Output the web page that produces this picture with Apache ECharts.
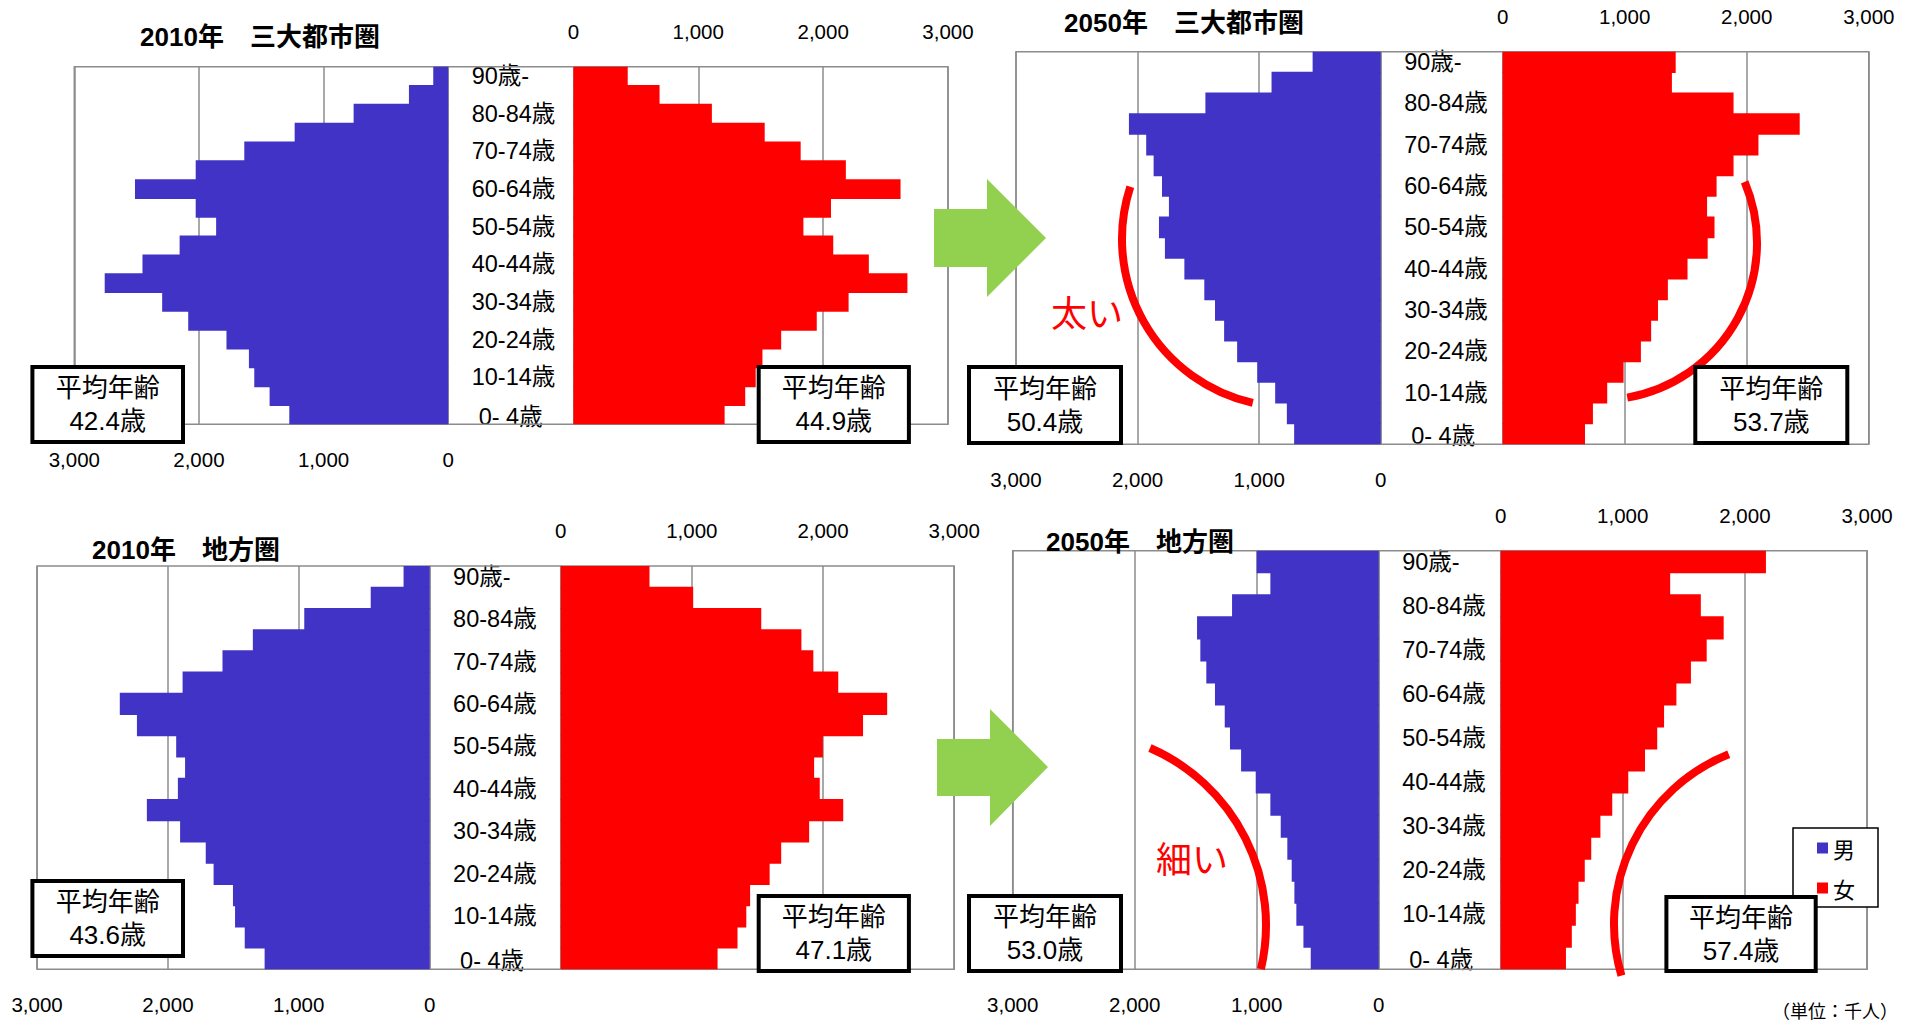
<!DOCTYPE html>
<html><head><meta charset="utf-8">
<script src="https://cdn.jsdelivr.net/npm/echarts@6/dist/echarts.min.js"></script>
<style>html,body{margin:0;padding:0;background:#fff}#c{width:1914px;height:1023px}</style>
</head><body><div id="c"></div>
<script>
// ---- data ----
const ageGroups = ['0- 4歳','5- 9歳','10-14歳','15-19歳','20-24歳','25-29歳','30-34歳','35-39歳','40-44歳','45-49歳','50-54歳','55-59歳','60-64歳','65-69歳','70-74歳','75-79歳','80-84歳','85-89歳','90歳-'];
const tickLabels = ['0','1,000','2,000','3,000'];
const panelTitles = ['2010年　三大都市圏','2050年　三大都市圏','2010年　地方圏','2050年　地方圏'];
const male2010Metro   = [1275,1433,1556,1599,1779,2086,2295,2756,2453,2155,1862,2026,2513,2026,1636,1232,759,315,120];
const female2010Metro = [1211,1376,1460,1514,1664,1949,2204,2675,2366,2081,1842,2063,2620,2182,1820,1532,1109,690,435];
const male2050Metro   = [712,772,868,1016,1181,1288,1363,1451,1615,1775,1824,1742,1799,1868,1929,2071,1442,898,560];
const female2050Metro = [675,740,857,991,1133,1217,1273,1354,1515,1680,1736,1675,1753,1892,2096,2434,1892,1387,1418];
const male2010Local   = [1261,1413,1487,1503,1651,1711,1907,2161,1924,1869,1937,2237,2368,1888,1583,1351,958,450,199];
const female2010Local = [1196,1348,1415,1444,1593,1681,1894,2154,1975,1932,1999,2305,2489,2116,1926,1835,1529,1010,677];
const male2050Local   = [557,617,675,691,713,749,803,888,1008,1128,1219,1262,1342,1413,1462,1489,1202,888,1000];
const female2050Local = [535,583,616,638,689,742,817,914,1045,1182,1282,1338,1439,1558,1687,1826,1639,1388,2172];
const meanAgeMaleSide   = ['42.4','50.4','43.6','53.0'];
const meanAgeFemaleSide = ['44.9','53.7','47.1','57.4'];
const seriesNames = ['男','女'];
const unitText = '（単位：千人）';
const remarks = ['太い','細い'];

// ---- layout ----
const FF = '"Liberation Sans","Noto Sans CJK JP",sans-serif';
const CJK = '"Noto Sans CJK JP","Liberation Sans",sans-serif';
const MALE_C = '#4033c5', FEMALE_C = '#ff0000', GRID_C = '#8c8c8c';
const maleData = [male2010Metro, male2050Metro, male2010Local, male2050Local];
const femaleData = [female2010Metro, female2050Metro, female2010Local, female2050Local];
const L = [
  {mL:74.3, mW:373.9, fL:573.4, fW:374.6, top:66.7, h:357.6, title:[260,37],
   boxM:[30.4,365,154.6,79], boxF:[756.7,365,154.2,79]},
  {mL:1016, mW:364.7, fL:1502.6, fW:366.2, top:51.7, h:392.6, title:[1184,23],
   boxM:[967,365,156,80], boxF:[1693.3,365,156,80]},
  {mL:37.1, mW:392.5, fL:560.7, fW:393.5, top:566, h:403.3, title:[186,550],
   boxM:[30.4,879,154.6,79], boxF:[756.7,894,154.2,79]},
  {mL:1012.7, mW:366, fL:1500.6, fW:366.5, top:550.7, h:418.6, title:[1140,542],
   boxM:[967,894,156,79], boxF:[1664.4,895,153.3,78]}
];

const grids = [], xAxes = [], yAxes = [], series = [], graphics = [];
const axisLabelStyle = {fontSize:20.5, color:'#000', fontFamily:FF, margin:25,
  formatter: v => tickLabels[Math.round(v/1000)]};
const catLabel = {interval:1, align:'left', margin:23.5, fontSize:23.5, color:'#000', fontFamily:FF,
  formatter: v => v === ageGroups[0] ? '{p|' + v + '}' : v,
  rich:{p:{padding:[4,0,0,7], fontSize:23.5, color:'#000', fontFamily:FF}}};
L.forEach((p, i) => {
  const gm = grids.length;
  grids.push({left:p.mL, top:p.top, width:p.mW, height:p.h});
  grids.push({left:p.fL, top:p.top, width:p.fW, height:p.h});
  xAxes.push({gridIndex:gm, type:'value', inverse:true, min:0, max:3000, interval:1000, position:'bottom',
    axisLine:{show:false}, axisTick:{show:false}, axisLabel:axisLabelStyle,
    splitLine:{show:true, lineStyle:{color:GRID_C, width:1.5}}});
  xAxes.push({gridIndex:gm+1, type:'value', min:0, max:3000, interval:1000, position:'top',
    axisLine:{show:false}, axisTick:{show:false}, axisLabel:axisLabelStyle,
    splitLine:{show:true, lineStyle:{color:GRID_C, width:1.5}}});
  yAxes.push({gridIndex:gm, type:'category', data:ageGroups, position:'right',
    axisLine:{show:true, lineStyle:{color:GRID_C, width:1.5}}, axisTick:{show:false},
    splitLine:{show:false}, axisLabel:catLabel});
  yAxes.push({gridIndex:gm+1, type:'category', data:ageGroups, position:'left',
    axisLine:{show:true, lineStyle:{color:GRID_C, width:1.5}}, axisTick:{show:false},
    splitLine:{show:false}, axisLabel:{show:false}});
  series.push({type:'bar', name:seriesNames[0], xAxisIndex:gm, yAxisIndex:gm, data:maleData[i],
    barWidth:'105%', itemStyle:{color:MALE_C}, silent:true});
  series.push({type:'bar', name:seriesNames[1], xAxisIndex:gm+1, yAxisIndex:gm+1, data:femaleData[i],
    barWidth:'105%', itemStyle:{color:FEMALE_C}, silent:true});
  // frame
  graphics.push({type:'rect', z:1, silent:true,
    shape:{x:p.mL, y:p.top, width:(p.fL+p.fW)-p.mL, height:p.h},
    style:{fill:'none', stroke:GRID_C, lineWidth:1.5}});
  // title
  graphics.push({type:'text', z:10, x:p.title[0], y:p.title[1],
    style:{text:panelTitles[i], font:'bold 26px '+FF, fill:'#000', align:'center', verticalAlign:'middle',
      textAlign:'center', textVerticalAlign:'middle'}});
  // mean-age boxes
  [[p.boxM, meanAgeMaleSide[i]], [p.boxF, meanAgeFemaleSide[i]]].forEach(([b, v]) => {
    graphics.push({type:'rect', z:20, shape:{x:b[0]+2, y:b[1]+2, width:b[2]-4, height:b[3]-4},
      style:{fill:'#fff', stroke:'#000', lineWidth:4}});
    graphics.push({type:'text', z:21, x:b[0]+b[2]/2, y:b[1]+b[3]/2,
      style:{text:'平均年齢\n'+v+'歳', font:'26px '+FF, lineHeight:33, fill:'#000',
        align:'center', verticalAlign:'middle', textAlign:'center', textVerticalAlign:'middle'}});
  });
});

// arrows
[[934,209,987,179,1046,238,297,267],[937,739,990,709,1048,767,826,796]].forEach(a => {
  graphics.push({type:'polygon', z:5, shape:{points:[[a[0],a[1]],[a[2],a[1]],[a[2],a[3]],[a[4],a[5]],[a[2],a[6]],[a[2],a[7]],[a[0],a[7]]]},
    style:{fill:'#92d050'}});
});
// red arcs
const deg = d => d*Math.PI/180;
[[1290,239,168,102.8,198.1],[1600,243,157,-22.9,80.0],[1073,925,193,-66.5,13.2],[1797,924,183,163.6,248.1]].forEach(a => {
  graphics.push({type:'arc', z:15, shape:{cx:a[0], cy:a[1], r:a[2], startAngle:deg(a[3]), endAngle:deg(a[4]), clockwise:true},
    style:{fill:'none', stroke:'#ff0000', lineWidth:8}});
});
const tc = {align:'center', verticalAlign:'middle', textAlign:'center', textVerticalAlign:'middle'};
graphics.push({type:'text', z:15, x:1087, y:311, style:Object.assign({text:remarks[0], font:'36px '+CJK, fill:'#ff0000'}, tc)});
graphics.push({type:'text', z:15, x:1192, y:857, style:Object.assign({text:remarks[1], font:'36px '+CJK, fill:'#ff0000'}, tc)});
graphics.push({type:'text', z:15, x:1835, y:1010, style:Object.assign({text:unitText, font:'18px '+CJK, fill:'#000'}, tc)});

const chart = echarts.init(document.getElementById('c'), null, {renderer:'svg'});
chart.setOption({
  animation:false,
  backgroundColor:'#fff',
  grid:grids, xAxis:xAxes, yAxis:yAxes, series:series,
  legend:{data:seriesNames, orient:'vertical', left:1793, top:828, backgroundColor:'#fff',
    borderColor:'#000', borderWidth:1.5, padding:[9,23,8,24], itemGap:18, itemWidth:11, itemHeight:11,
    icon:'rect', selectedMode:false, textStyle:{fontSize:22, color:'#000', fontFamily:CJK}},
  graphic:{elements:graphics}
});
</script></body></html>
